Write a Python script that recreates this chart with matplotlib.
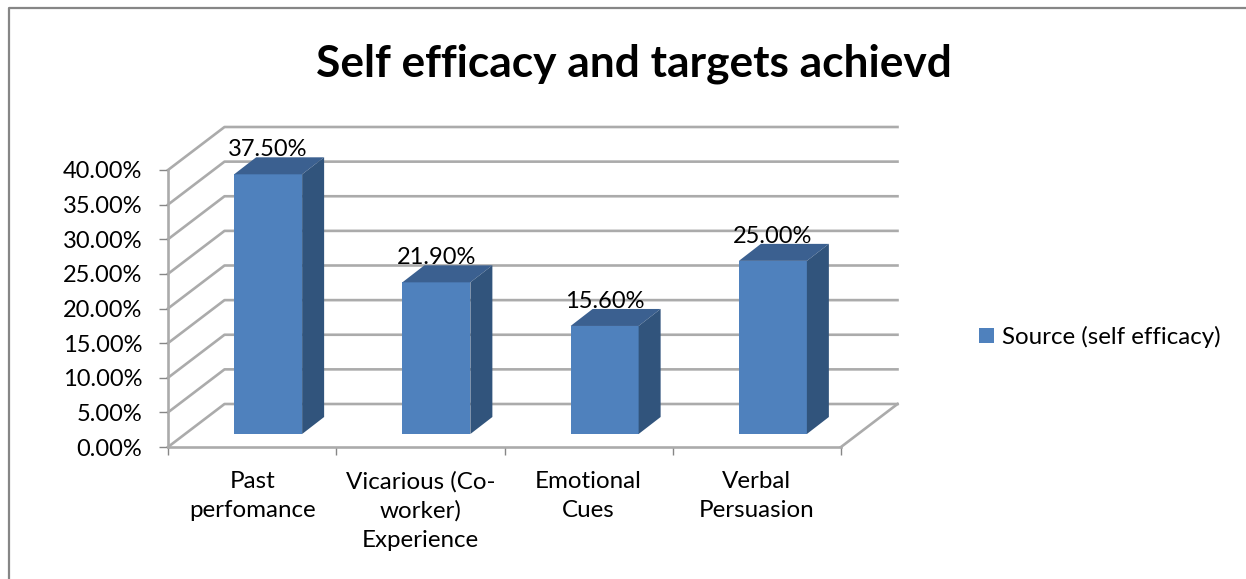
import matplotlib
matplotlib.use("Agg")
import matplotlib.pyplot as plt
from matplotlib.lines import Line2D

plt.rcParams['font.family'] = ['Lato', 'DejaVu Sans']

categories = ['Past\nperfomance', 'Vicarious (Co-\nworker)\nExperience', 'Emotional\nCues', 'Verbal\nPersuasion']
values = [37.5, 21.9, 15.6, 25.0]
value_labels = ['37.50%', '21.90%', '15.60%', '25.00%']
y_ticks = [0, 5, 10, 15, 20, 25, 30, 35, 40]
series_name = 'Source (self efficacy)'

W, H = 1246, 579
FRONT = '#4F81BD'
TOP = '#3B6090'
SIDE = '#31547C'
GRID = '#ABABAB'
TXT = '#000000'
FS = 17.4
FS_NUM = 17

fig = plt.figure(figsize=(W / 100, H / 100), dpi=100)
ax = fig.add_axes([168 / W, 1 - 447 / H, (841 - 168) / W, (447 - 170) / H])
ax.set_xlim(0, 4)
ax.set_ylim(0, 40)
ax.patch.set_alpha(0)

# fake 3d depth, in data units
px_x = 4 / (841 - 168)
px_y = 40 / (447 - 170)
dx = 56.5 * px_x
dy = 43 * px_y

# walls and floor
for v in y_ticks:
    ax.plot([0, dx, 4 + dx], [v, v + dy, v + dy], color=GRID, lw=1.9, clip_on=False, zorder=1)
ax.plot([4, 4 + dx], [0, dy], color=GRID, lw=1.9, clip_on=False, zorder=1)

# bars
centers = [i + 0.5 for i in range(len(values))]
bar_shift = 16 * px_x
bar_base = 13 * px_y
bar_w = 68 * px_x
depth_x = 22 * px_x
depth_y = 17 * px_y
bars = None
for c, v, lab in zip(centers, values, value_labels):
    x0 = c + bar_shift - bar_w / 2
    x1 = x0 + bar_w
    top = bar_base + v
    b = ax.bar(x0 + bar_w / 2, v, bottom=bar_base, width=bar_w, color=FRONT, zorder=3, clip_on=False, label=series_name)
    if bars is None:
        bars = b
    ax.fill([x0, x1, x1 + depth_x, x0 + depth_x], [top, top, top + depth_y, top + depth_y], color=TOP, lw=0, zorder=3, clip_on=False)
    ax.fill([x1, x1 + depth_x, x1 + depth_x, x1], [bar_base, bar_base + depth_y, top + depth_y, top], color=SIDE, lw=0, zorder=3, clip_on=False)
    ax.annotate(lab, (x0 + bar_w / 2, top), xytext=(0, 13), textcoords='offset points',
                ha='center', va='baseline', fontsize=FS_NUM, color=TXT, zorder=4, annotation_clip=False)

for s in ['top', 'right']:
    ax.spines[s].set_visible(False)
for s in ['left', 'bottom']:
    ax.spines[s].set_color(GRID)
    ax.spines[s].set_linewidth(1.9)
    ax.spines[s].set_zorder(2)

ax.set_yticks(y_ticks)
ax.set_yticklabels(['%.2f%%' % v for v in y_ticks], fontsize=FS_NUM, color=TXT)
ax.tick_params(axis='y', length=6.5, width=1, color='#868686', pad=12)
ax.set_xticks([0, 1, 2, 3, 4])
ax.set_xticklabels([])
ax.tick_params(axis='x', which='major', length=6, width=1, color='#868686')
ax.set_xticks(centers, categories, minor=True, fontsize=FS, color=TXT, linespacing=1.47)
ax.tick_params(axis='x', which='minor', length=0, pad=17)

leg = ax.legend(handles=[bars[0]], labels=[series_name], loc='center left', frameon=False,
                bbox_to_anchor=(979 / W, 1 - 337 / H), bbox_transform=fig.transFigure,
                fontsize=FS, handlelength=0.62, handleheight=0.62, handletextpad=0.32,
                borderpad=0, borderaxespad=0)

fig.text(634 / W, 1 - 76 / H, 'Self efficacy and targets achievd', fontsize=31.9, fontweight='bold',
         ha='center', va='baseline', color=TXT)

# chart border, only left and top show in the crop
fig.add_artist(Line2D([8.5 / W, 8.5 / W, 1], [0, 1 - 7.5 / H, 1 - 7.5 / H], color='#868686', lw=1.6))

fig.savefig('out.png', dpi=100)
